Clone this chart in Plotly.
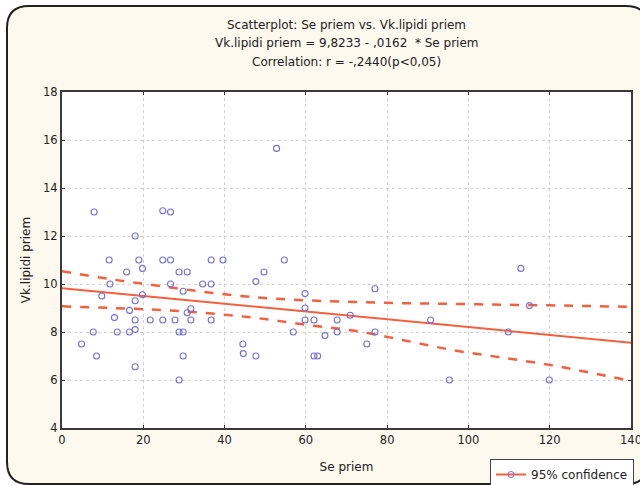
import plotly.graph_objects as go

# ---- data ----
se_priem = [7.9, 24.8, 26.7, 52.8, 18.0, 11.6, 18.9, 24.8, 26.7, 36.7, 39.6,
            15.9, 19.8, 28.8, 30.8, 11.8, 26.7, 34.6, 36.7, 47.7, 9.8, 19.8,
            29.8, 18.0, 16.6, 31.7, 30.8, 12.9, 18.0, 21.7, 24.8, 27.8, 31.7,
            36.7, 7.7, 13.6, 16.6, 18.0, 28.8, 29.8, 4.8, 44.5, 8.5, 29.8,
            44.6, 47.7, 18.0, 28.8, 54.7, 49.7, 59.8, 77.0, 59.8, 59.8, 62.0,
            67.7, 70.9, 56.9, 67.7, 77.0, 64.7, 75.0, 62.0, 62.9, 90.7, 95.3,
            112.9, 115.0, 109.8, 119.9]
vk_lipidi = [13.0, 13.05, 13.0, 15.65, 12.0, 11.0, 11.0, 11.0, 11.0, 11.0, 11.0,
             10.5, 10.65, 10.5, 10.5, 10.0, 10.0, 10.0, 10.0, 10.1, 9.5, 9.55,
             9.7, 9.3, 8.9, 8.97, 8.8, 8.6, 8.5, 8.5, 8.5, 8.5, 8.5,
             8.5, 8.0, 8.0, 8.0, 8.1, 8.0, 8.0, 7.5, 7.5, 7.0, 7.0,
             7.1, 7.0, 6.55, 6.0, 11.0, 10.5, 9.6, 9.8, 9.0, 8.5, 8.5,
             8.5, 8.7, 8.0, 8.0, 8.0, 7.85, 7.5, 7.0, 7.0, 8.5, 6.0,
             10.65, 9.1, 8.0, 6.0]

# regression line (coefficients from the chart title)
intercept = 9.8233
slope = -0.0162
fit_x = [0, 140]

# 95% confidence band
ci_x = [0, 12, 24, 36, 48, 60, 72, 84, 96, 108, 120, 130, 140]
ci_upper = [10.53, 10.2, 9.92, 9.65, 9.44, 9.32, 9.25, 9.2, 9.17, 9.14, 9.11, 9.08, 9.05]
ci_lower = [9.07, 9.0, 8.92, 8.78, 8.58, 8.3, 8.05, 7.66, 7.25, 6.94, 6.63, 6.3, 5.97]

x_ticks = [0, 20, 40, 60, 80, 100, 120, 140]
y_ticks = [4, 6, 8, 10, 12, 14, 16, 18]

title_lines = ["Scatterplot: Se priem vs. Vk.lipidi priem",
               "Vk.lipidi priem = 9,8233 - ,0162  * Se priem",
               "Correlation: r = -,2440(p<0,05)"]

# ---- layout geometry ----
W, H = 640, 485
L, R, T, B = 62, 9, 92, 57
PW, PH = W - L - R, H - T - B

def px(x):
    return (x - L) / PW

def py(y):
    return (H - B - y) / PH

FONT = "DejaVu Sans, Verdana, sans-serif"
TXT = "#222222"
RED = "#f2603f"
BLUE = "#7272d8"

fit_y = [intercept + slope * v for v in fit_x]

fig = go.Figure()
fig.add_trace(go.Scatter(x=ci_x, y=ci_upper, mode="lines", line=dict(color=RED, width=2.5, dash="dash", shape="spline"),
                         showlegend=False, hoverinfo="skip"))
fig.add_trace(go.Scatter(x=ci_x, y=ci_lower, mode="lines", line=dict(color=RED, width=2.5, dash="dash", shape="spline"),
                         showlegend=False, hoverinfo="skip"))
fig.add_trace(go.Scatter(x=fit_x, y=fit_y, mode="lines", line=dict(color=RED, width=2),
                         showlegend=False))
fig.add_trace(go.Scatter(x=se_priem, y=vk_lipidi, mode="markers",
                         marker=dict(symbol="circle-open", size=6, color=BLUE, line=dict(width=1.1, color=BLUE)),
                         showlegend=False))
# legend entry
fig.add_trace(go.Scatter(x=[None], y=[None], mode="lines+markers", name="95% confidence",
                         line=dict(color=RED, width=2),
                         marker=dict(symbol="circle-open", size=6, color=BLUE)))

# background frame with rounded corners
r = 22
x0, x1, y0, y1 = 7, 648, 6, 484
path = (f"M {px(x0 + r)} {py(y0)} L {px(x1 - r)} {py(y0)} "
        f"Q {px(x1)} {py(y0)} {px(x1)} {py(y0 + r)} "
        f"L {px(x1)} {py(y1 - r)} Q {px(x1)} {py(y1)} {px(x1 - r)} {py(y1)} "
        f"L {px(x0 + r)} {py(y1)} Q {px(x0)} {py(y1)} {px(x0)} {py(y1 - r)} "
        f"L {px(x0)} {py(y0 + r)} Q {px(x0)} {py(y0)} {px(x0 + r)} {py(y0)} Z")
shapes = [
    dict(type="path", path=path, xref="paper", yref="paper", layer="below",
         fillcolor="#fdf9ee", line=dict(color="#222222", width=2)),
    dict(type="rect", xref="paper", yref="paper", x0=0, x1=1, y0=0, y1=1, layer="below",
         fillcolor="white", line=dict(width=0)),
]

annotations = []
for i, t in enumerate(title_lines):
    annotations.append(dict(text=t, x=0.5, xref="paper", y=py(25 + i * 18.5), yref="paper",
                            xanchor="center", yanchor="middle", showarrow=False,
                            font=dict(family=FONT, size=12, color=TXT)))

axis_common = dict(showline=True, linecolor="#3a3a3a", linewidth=2, mirror="ticks",
                   ticks="inside", ticklen=3, tickcolor="#333333",
                   showgrid=True, gridcolor="#d2d2d2", griddash="dot", gridwidth=1,
                   zeroline=False, automargin=False, ticklabeloverflow="allow",
                   tickfont=dict(family=FONT, size=11.5, color=TXT))

fig.update_layout(
    width=W, height=H,
    margin=dict(l=L, r=R, t=T, b=B, autoexpand=False),
    paper_bgcolor="white", plot_bgcolor="rgba(0,0,0,0)",
    shapes=shapes, annotations=annotations,
    xaxis=dict(range=[0, 140], tickvals=x_ticks, ticktext=[str(v) for v in x_ticks],
               title=dict(text="Se priem", font=dict(family=FONT, size=12, color=TXT), standoff=17),
               **axis_common),
    yaxis=dict(range=[4, 18], tickvals=y_ticks, ticktext=[str(v) for v in y_ticks],
               title=dict(text="Vk.lipidi priem", font=dict(family=FONT, size=12, color=TXT), standoff=10),
               **axis_common),
    showlegend=True,
    legend=dict(xref="container", yref="container", x=490 / W, y=(H - 459) / H,
                xanchor="left", yanchor="top",
                bgcolor="white", bordercolor="#444444", borderwidth=1,
                font=dict(family=FONT, size=12, color=TXT),
                itemwidth=30, tracegroupgap=0),
)

fig.write_html("out.html")
